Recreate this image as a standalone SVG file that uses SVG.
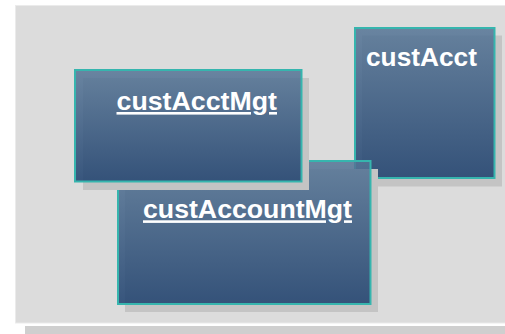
<svg xmlns="http://www.w3.org/2000/svg" width="505" height="334" viewBox="0 0 505 334">
<defs>
<linearGradient id="g" x1="0" y1="0" x2="0" y2="1">
<stop offset="0" stop-color="#557596"/>
<stop offset="1" stop-color="#1b3e6c"/>
</linearGradient>
<style>
.shadow{fill:#c4c4c4}
.box{fill:url(#g);fill-opacity:0.85;stroke:#36b5ae;stroke-width:2}
.lbl{font-family:"Liberation Sans",Arial,sans-serif;font-weight:bold;font-size:26px;fill:#ffffff}
.u{text-decoration:underline}
</style>
</defs>
<rect x="0" y="0" width="505" height="334" fill="#ffffff"/>
<rect x="25" y="326" width="485" height="10" fill="#cfcfcf"/>
<rect x="15.5" y="5.5" width="495" height="317.5" fill="#dcdcdc" stroke="#ebebeb" stroke-width="1"/>
<g id="connectors"></g>
<g id="custAcct">
<rect class="shadow" x="362" y="35.5" width="140" height="151"/>
<rect class="box" x="355" y="28" width="139.5" height="150"/>
<text class="lbl" x="366" y="66" textLength="111" lengthAdjust="spacingAndGlyphs">custAcct</text>
</g>
<g id="custAccountMgt">
<rect class="shadow" x="125" y="169" width="253" height="143"/>
<rect class="box" x="118" y="161" width="252.5" height="143"/>
<text class="lbl u" x="143" y="218.3" textLength="209" lengthAdjust="spacingAndGlyphs">custAccountMgt</text>
</g>
<g id="custAcctMgt">
<rect class="shadow" x="83" y="78" width="226" height="112"/>
<rect class="box" x="75" y="70" width="226.5" height="111.5"/>
<text class="lbl u" x="116.5" y="110" textLength="160.5" lengthAdjust="spacingAndGlyphs">custAcctMgt</text>
</g>
</svg>
